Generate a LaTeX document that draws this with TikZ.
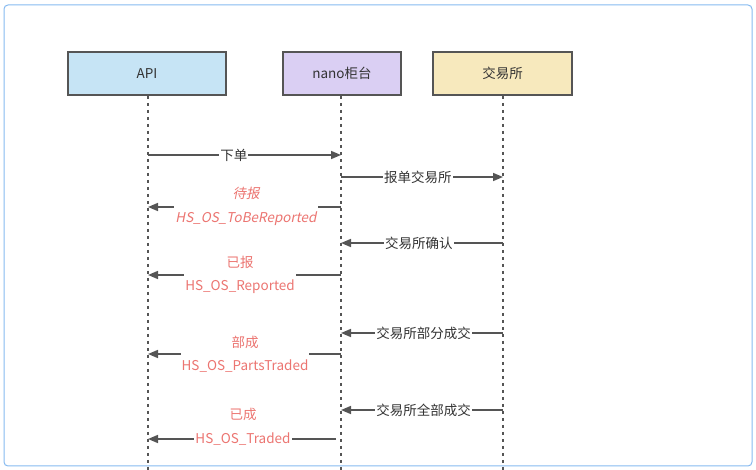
\documentclass[tikz,border=0pt]{standalone}
\usepackage{fontspec}
\setmainfont{Noto Sans CJK SC}
\newfontfamily\slantfont[FakeSlant=0.2]{Noto Sans CJK SC}
\usetikzlibrary{arrows.meta}
\definecolor{framec}{HTML}{86BAF0}
\definecolor{strokec}{HTML}{555555}
\definecolor{apic}{HTML}{C6E4F5}
\definecolor{nanoc}{HTML}{DACFF3}
\definecolor{exc}{HTML}{F7E9BD}
\definecolor{redt}{HTML}{EC7571}
\definecolor{txt}{HTML}{333333}
\tikzset{
  actor/.style={draw=strokec, line width=1.8pt, minimum height=43pt, inner sep=0pt, text=txt, font=\fontsize{13.5}{15}\selectfont},
  lifeline/.style={draw=strokec, line width=1.6pt, dash pattern=on 3.5pt off 3.5pt},
  msg/.style={draw=strokec, line width=1.6pt, -{Triangle[length=10pt,width=8pt]}},
  lbl/.style={fill=white, inner sep=1pt, text=txt, font=\fontsize{13.5}{15}\selectfont},
  stat/.style={fill=white, inner sep=1pt, text=redt, align=center, font=\fontsize{13.5}{23.5}\selectfont},
}
\begin{document}
\begin{tikzpicture}[x=1pt,y=-1pt]
\useasboundingbox (0,0) rectangle (756,470);
\draw[framec, line width=1pt, rounded corners=4pt] (4,5) rectangle (752,466) ;
\node[actor, fill=apic, minimum width=158pt] (api) at (147,73.5) {API};
\node[actor, fill=nanoc, minimum width=118pt] (nano) at (342,73.5) {nano柜台};
\node[actor, fill=exc, minimum width=139pt] (ex) at (502.5,73.5) {交易所};
\coordinate (apiE) at (148,470);
\coordinate (nanoE) at (341,470);
\coordinate (exE) at (503,470);
\draw[lifeline] (api.south -| apiE) -- (apiE);
\draw[lifeline] (nano.south -| nanoE) -- (nanoE);
\draw[lifeline] (ex.south -| exE) -- (exE);
% messages
\coordinate (a1) at (148,155); \coordinate (n1) at (341,155);
\draw[msg] (a1) -- node[lbl, pos=0.445] (m1) {下单} (n1);
\coordinate (n2) at (341,177); \coordinate (e2) at (503,177);
\draw[msg] (n2) -- node[lbl, pos=0.475] (m2) {报单交易所} (e2);
\coordinate (n3) at (341,207); \coordinate (a3) at (148,207);
\draw[msg] (n3) -- (a3);
\node[stat, font=\slantfont\fontsize{13.5}{23.5}\selectfont] (m3) at (246,206.5) {待报\\HS\_OS\_ToBeReported};
\coordinate (e4) at (503,243); \coordinate (n4) at (341,243);
\draw[msg] (e4) -- node[lbl, pos=0.52] (m4) {交易所确认} (n4);
\coordinate (n5) at (341,275); \coordinate (a5) at (148,275);
\draw[msg] (n5) -- (a5);
\node[stat] (m5) at (240,275) {已报\\HS\_OS\_Reported};
\coordinate (e6) at (503,333); \coordinate (n6) at (341,333);
\draw[msg] (e6) -- node[lbl, pos=0.49] (m6) {交易所部分成交} (n6);
\coordinate (n7) at (341,354); \coordinate (a7) at (148,354);
\draw[msg] (n7) -- (a7);
\node[stat] (m7) at (245,354) {部成\\HS\_OS\_PartsTraded};
\coordinate (e8) at (503,410); \coordinate (n8) at (341,410);
\draw[msg] (e8) -- node[lbl, pos=0.49] (m8) {交易所全部成交} (n8);
\coordinate (n9) at (336,439); \coordinate (a9) at (148,439);
\draw[msg] (n9) -- (a9);
\node[stat, fill=none] (m9a) at (243,414) {已成};
\node[stat] (m9b) at (243,439) {HS\_OS\_Traded};
\end{tikzpicture}
\end{document}
